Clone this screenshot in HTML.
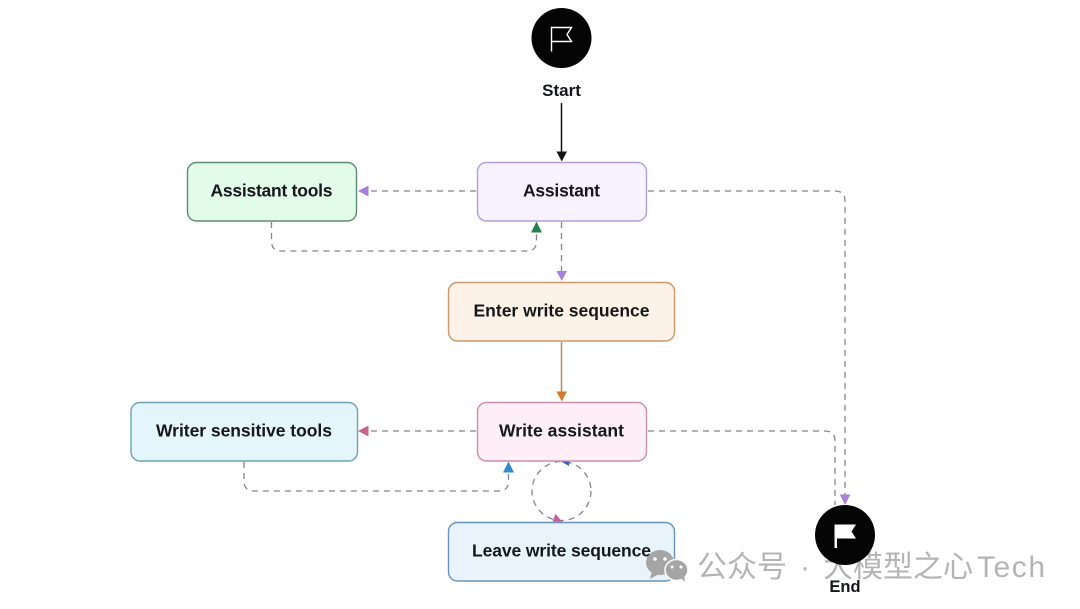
<!DOCTYPE html>
<html><head><meta charset="utf-8">
<style>html,body{margin:0;padding:0;background:#fff}svg{display:block;filter:blur(0.35px)}
text{font-family:"Liberation Sans","Noto Sans CJK SC",sans-serif}
.l{font-size:17.5px;font-weight:700;fill:#15171a;text-anchor:middle}
.d{fill:none;stroke:#85858a;stroke-width:1.3;stroke-dasharray:6 5}
.w{font-size:30px;fill:#b4b4b4}
</style></head><body>
<svg width="1080" height="609" viewBox="0 0 1080 609" xmlns="http://www.w3.org/2000/svg">
<rect width="1080" height="609" fill="#fff"/>
<!-- watermark text beneath End circle -->
<text class="w" x="697" y="577">公众号</text>
<text class="w" x="800" y="577">·</text>
<text class="w" x="823" y="577">大模型之心</text>
<text class="w" x="977" y="577" textLength="68">Tech</text>
<!-- connectors -->
<path d="M561.500 103V153" stroke="#111" stroke-width="1.500" fill="none"/>
<path d="M556.500 151.500h10.500l-5.250 10z" fill="#111"/>
<path class="d" d="M476 191H366"/>
<path d="M358 191l10.500-5.500v11z" fill="#a77fdc"/>
<path class="d" d="M271.500 222V241q0 10 10 10H527q9.500 0 9.500-10V232"/>
<path d="M536.500 221.500l5.500 11h-11z" fill="#2a8050"/>
<path class="d" d="M561.500 222V272"/>
<path d="M556.500 271h10.500l-5.250 10z" fill="#a77fdc"/>
<path class="d" d="M648 191H835q10 0 10 10V495"/>
<path d="M839.800 494.500h10.500l-5.250 10.500z" fill="#a77fdc"/>
<path d="M561.500 342V393" stroke="#bd8a5e" stroke-width="1.500" fill="none"/>
<path d="M556.500 391.500h10.500l-5.250 10z" fill="#d9772b"/>
<path class="d" d="M476 431H367"/>
<path d="M358 431l10.500-5.500v11z" fill="#c9648c"/>
<path class="d" d="M244 462V481q0 10 10 10H499q9.500 0 9.500-10V472"/>
<path d="M508.500 461.500l5.500 11h-11z" fill="#2f8bc9"/>
<path class="d" d="M648 431H825q10 0 10 10V505"/>
<circle class="d" cx="561.500" cy="491" r="29.500"/>
<path d="M561 461.500l8.500-4-0.500 8.500z" fill="#3d5db5"/>
<path d="M562.500 522l-10-0.500 3-7.500z" fill="#c05fa0"/>
<!-- nodes -->
<rect x="187.500" y="162.500" width="169" height="58.500" rx="9" fill="#e3fbe9" stroke="#5f8a74" stroke-width="1.400"/>
<text class="l" x="271.500" y="196.500" textLength="122">Assistant tools</text>
<rect x="477.500" y="162.500" width="169" height="58.500" rx="9" fill="#f8f1fe" stroke="#b29fd2" stroke-width="1.400"/>
<text class="l" x="561.500" y="196.500" textLength="77">Assistant</text>
<rect x="448.500" y="282.500" width="226" height="58.500" rx="9" fill="#fdf2e8" stroke="#c9986c" stroke-width="1.400"/>
<text class="l" x="561.500" y="316.500" textLength="176">Enter write sequence</text>
<rect x="477.500" y="402.500" width="169" height="58.500" rx="9" fill="#fdeef7" stroke="#c98fa8" stroke-width="1.400"/>
<text class="l" x="561.500" y="436.500" textLength="125">Write assistant</text>
<rect x="131" y="402.500" width="226.500" height="58.500" rx="9" fill="#e5f5fc" stroke="#6ea0b0" stroke-width="1.400"/>
<text class="l" x="244" y="436.500" textLength="176">Writer sensitive tools</text>
<rect x="448.500" y="522.500" width="226" height="58.500" rx="9" fill="#e9f3fc" stroke="#6b93b8" stroke-width="1.400"/>
<text class="l" x="561.500" y="556.500" textLength="179">Leave write sequence</text>
<!-- start -->
<circle cx="561.500" cy="38" r="30" fill="#050505"/>
<path d="M551.500 51.500V27.500H571.500L567 34.500L571.500 41.500H551.500" fill="none" stroke="#fff" stroke-width="1.400"/>
<text x="561.500" y="96" text-anchor="middle" font-size="17" font-weight="700" fill="#15171a">Start</text>
<!-- wechat icon -->
<g fill="#a5a5a5">
<ellipse cx="660" cy="562.500" rx="14" ry="12.500"/><path d="M652 571l-2 8 9-5z"/>
<ellipse cx="676.500" cy="570" rx="11.500" ry="10.500" stroke="#fff" stroke-width="1.500"/><path d="M681 578l4 4-1-7z"/>
</g>
<g fill="#fff"><circle cx="655" cy="559" r="1.800"/><circle cx="665" cy="559" r="1.800"/><circle cx="672" cy="567" r="1.500"/><circle cx="681" cy="567" r="1.500"/></g>
<!-- end -->
<circle cx="845" cy="535" r="30" fill="#050505"/>
<path d="M834.500 548V524.500H856L851.500 531.500L856 538.500H837V548z" fill="#fff"/>
<text x="845" y="592" text-anchor="middle" font-size="16.500" font-weight="700" fill="#15171a">End</text>
</svg>
</body></html>
